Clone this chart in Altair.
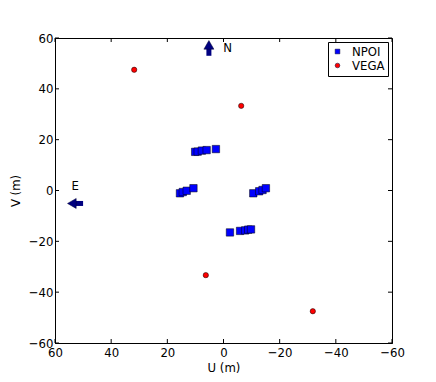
import altair as alt
import pandas as pd

# NPOI (u, v) samples in metres
npoi_u = [10.1, 9.2, 7.7, 6.0, 2.7, 15.5, 14.5, 13.1, 10.7, -10.6, -12.7, -13.9, -15.1, -2.3, -5.9, -7.7, -8.8, -9.8]
npoi_v = [15.2, 15.3, 15.7, 15.9, 16.3, -1.1, -0.6, -0.1, 0.9, -1.1, -0.3, 0.2, 0.9, -16.5, -15.9, -15.7, -15.4, -15.3]
# VEGA (u, v) samples
vega_u = [31.8, -6.3, 6.3, -31.8]
vega_v = [47.5, 33.3, -33.3, -47.5]
series = ["NPOI", "VEGA"]
tick_vals = [-60, -40, -20, 0, 20, 40, 60]

# compass arrows (tail -> head) and labels
arrow_names = ["N", "E"]
arrow_u = [5.2, 50.0]
arrow_v = [53.0, -5.1]
arrow_u2 = [5.2, 53.3]
arrow_v2 = [57.0, -5.1]
head_u = [5.2, 54.0]
head_v = [57.3, -5.1]
head_shape = ["triangle-up", "triangle-left"]
label_u = [-1.5, 52.8]
label_v = [56.0, 1.8]

W, H = 337, 305
FONT = "DejaVu Sans Condensed"
FS = 13

pts = pd.DataFrame({
    "u": npoi_u + vega_u,
    "v": npoi_v + vega_v,
    "series": ["NPOI"] * len(npoi_u) + ["VEGA"] * len(vega_u),
})
arrows = pd.DataFrame({"name": arrow_names, "u": arrow_u, "v": arrow_v,
                       "u2": arrow_u2, "v2": arrow_v2,
                       "hu": head_u, "hv": head_v, "shape": head_shape,
                       "lu": label_u, "lv": label_v})
ticks = pd.DataFrame({"t": tick_vals})

xs = alt.Scale(domain=[-60, 60], reverse=True, nice=False)
ys = alt.Scale(domain=[-60, 60], nice=False)

base_x = alt.X("u:Q", scale=xs, title="U (m)",
               axis=alt.Axis(values=tick_vals, ticks=False, grid=False, labelPadding=3,
                             titlePadding=2, labelFlush=False))
base_y = alt.Y("v:Q", scale=ys, title="V (m)",
               axis=alt.Axis(values=tick_vals, ticks=False, grid=False, labelPadding=2,
                             titlePadding=6, labelFlush=False))

points = alt.Chart(pts).mark_point(filled=True, stroke="black", strokeWidth=0.5, opacity=1).encode(
    x=base_x, y=base_y,
    color=alt.Color("series:N", scale=alt.Scale(domain=series, range=["#0000ff", "#ff0000"]),
                    legend=alt.Legend(title=None, orient="top-right", offset=4,
                                      strokeColor="black", fillColor="white", padding=3,
                                      labelFont=FONT, labelFontSize=FS, labelColor="black",
                                      symbolStrokeColor="black", symbolStrokeWidth=0.5,
                                      symbolSize=22, rowPadding=0, labelOffset=8,
                                      cornerRadius=0)),
    shape=alt.Shape("series:N", scale=alt.Scale(domain=series, range=["square", "circle"])),
    size=alt.condition(alt.datum.series == "NPOI", alt.value(55), alt.value(28)),
)

shaft = alt.Chart(arrows).mark_rule(strokeWidth=5, color="#000080").encode(
    x=alt.X("u:Q", scale=xs), y=alt.Y("v:Q", scale=ys),
    x2="u2:Q", y2="v2:Q")
head = alt.Chart(arrows).mark_point(filled=True, color="#000080", stroke="#000033",
                                    strokeWidth=0.5, size=100, opacity=1).encode(
    x=alt.X("hu:Q", scale=xs), y=alt.Y("hv:Q", scale=ys),
    shape=alt.Shape("shape:N", scale=None))
labels = alt.Chart(arrows).mark_text(font=FONT, fontSize=FS, color="black").encode(
    x=alt.X("lu:Q", scale=xs), y=alt.Y("lv:Q", scale=ys), text="name:N")

tk = dict(color="black", strokeWidth=1)
t_bottom = alt.Chart(ticks).mark_rule(**tk).encode(x=alt.X("t:Q", scale=xs), y=alt.value(H), y2=alt.value(H - 4))
t_top = alt.Chart(ticks).mark_rule(**tk).encode(x=alt.X("t:Q", scale=xs), y=alt.value(0), y2=alt.value(4))
t_left = alt.Chart(ticks).mark_rule(**tk).encode(y=alt.Y("t:Q", scale=ys), x=alt.value(0), x2=alt.value(4))
t_right = alt.Chart(ticks).mark_rule(**tk).encode(y=alt.Y("t:Q", scale=ys), x=alt.value(W), x2=alt.value(W - 4))

chart = alt.layer(t_bottom, t_top, t_left, t_right, shaft, head, labels, points).properties(
    width=W, height=H,
    autosize=alt.AutoSizeParams(type="none"),
    padding={"left": 47, "top": 30, "right": 36, "bottom": 31},
).configure_view(stroke="black", strokeWidth=1).configure_axis(
    domainColor="black", domainWidth=1, labelFont=FONT, labelFontSize=FS, labelColor="black",
    titleFont=FONT, titleFontSize=FS, titleFontWeight="normal", titleColor="black",
)

chart.save("out.html", embed_options={"renderer": "svg", "actions": False})
